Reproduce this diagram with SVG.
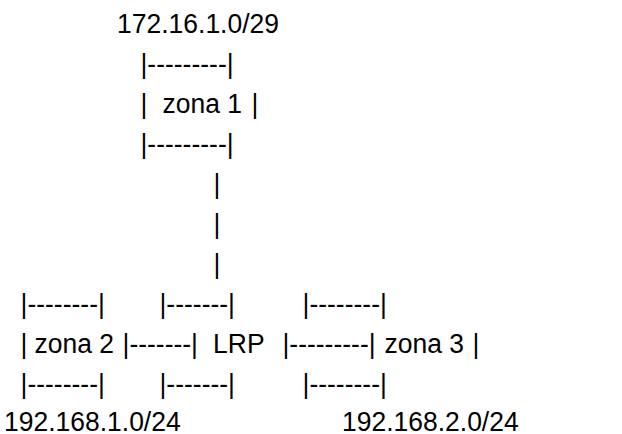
<svg xmlns="http://www.w3.org/2000/svg" width="622" height="434" viewBox="0 0 622 434">
<style>
text{font-family:"Liberation Sans",Arial,sans-serif;font-size:28px;fill:#000;white-space:pre}
</style>
<rect width="622" height="434" fill="#fff"/>
<g transform="scale(0.946,1)">
<g id="zona1">
<text x="123.7" y="33">172.16.1.0/29</text>
<text x="148.5" y="73">|---------|</text>
<text x="148.5" y="113">|</text>
<text x="171.8" y="113">zona 1</text>
<text x="265.9" y="113">|</text>
<text x="148.5" y="153">|---------|</text>
</g>
<g id="zona2">
<text x="21.7" y="313">|--------|</text>
<text x="21.7" y="353">|</text>
<text x="36.5" y="353">zona 2</text>
<text x="21.7" y="393">|--------|</text>
<text x="4.2" y="431">192.168.1.0/24</text>
</g>
<g id="lrp">
<text x="168.6" y="313">|-------|</text>
<text x="225.2" y="353">LRP</text>
<text x="168.6" y="393">|-------|</text>
</g>
<g id="zona3">
<text x="319.8" y="313">|--------|</text>
<text x="406.4" y="353">zona 3</text>
<text x="499.5" y="353">|</text>
<text x="319.8" y="393">|--------|</text>
<text x="361.5" y="431">192.168.2.0/24</text>
</g>
<g id="connectors">
<text x="225.7" y="193">|</text>
<text x="225.7" y="233">|</text>
<text x="225.7" y="273">|</text>
<text x="129.5" y="353">|-------|</text>
<text x="298.6" y="353">|---------|</text>
</g>
</g>
</svg>
